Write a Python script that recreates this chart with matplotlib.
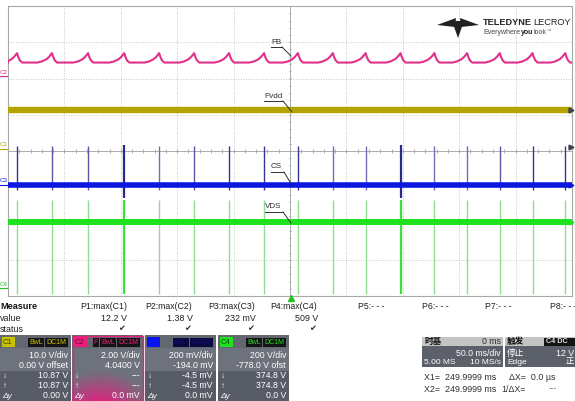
import numpy as np
import matplotlib
matplotlib.use("Agg")
import matplotlib.pyplot as plt
from matplotlib.patches import Rectangle, Polygon

plt.rcParams['font.family'] = ['Liberation Sans', 'Noto Sans CJK SC', 'DejaVu Sans']

W, H = 575, 401

# screen data: time in ms (50 ms/div, 10 div), level in divisions from the bottom (8 div)
pulse_ms = [8, 39, 71, 103, 134, 165, 196, 227, 257, 288, 317, 348, 378, 407, 436, 465, 494]
cs_shade = [0.9, 0.6, 0.6, 1.0, 0.4, 0.6, 0.9, 0.9, 0.9, 0.4, 0.4, 1.0, 0.4, 0.4, 0.6, 0.9, 0.9]
big_pulse = [3, 11]
fb_off = [-13, -9, -5, -2.5, 0, 1, 2.5, 4.5]        # one FB cycle around each pulse
fb_lvl = [6.44, 6.47, 6.53, 6.60, 6.70, 6.60, 6.50, 6.44]
pvdd_lvl = 5.13
cs_lvl = 3.06
cs_spike = (2.92, 4.14)
cs_spike_big = (2.70, 4.16)
vds_lvl = 2.04
vds_spike = (0.05, 2.65)

meas_names = ["P1:max(C1)", "P2:max(C2)", "P3:max(C3)", "P4:max(C4)", "P5:- - -", "P6:- - -", "P7:- - -", "P8:- - -"]
meas_values = ["12.2 V", "1.38 V", "232 mV", "509 V"]

ch_names = ["C1", "C2", "C3", "C4"]
ch_scale = ["10.0 V/div", "2.00 V/div", "200 mV/div", "200 V/div"]
ch_offset = ["0.00 V offset", "4.0400 V", "-194.0 mV", "-778.0 V ofst"]
ch_down = ["10.87 V", "---", "-4.5 mV", "374.8 V"]
ch_up = ["10.87 V", "---", "-4.5 mV", "374.8 V"]
ch_dy = ["0.00 V", "0.0 mV", "0.0 mV", "0.0 V"]

fig = plt.figure(figsize=(W / 100, H / 100), dpi=100)
fig.patch.set_facecolor("white")

# ---------------- waveform grid ----------------
ax = fig.add_axes([8 / W, (H - 296) / H, 564 / W, 290 / H])
ax.set_xlim(0, 500)
ax.set_ylim(0, 8)
ax.set_xticks([])
ax.set_yticks([])
for s in ax.spines.values():
    s.set_color("#a8a8a8")
    s.set_linewidth(0.8)

for i in range(1, 10):
    if i != 5:
        ax.axvline(i * 50, color="#b4b4b4", lw=0.6, ls=(0, (1, 2)), zorder=1)
for j in range(1, 8):
    if j != 4:
        ax.axhline(j, color="#b4b4b4", lw=0.6, ls=(0, (1, 2)), zorder=1)
ax.axvline(250, color="#a0a0a0", lw=0.6, zorder=1)
ax.axhline(4, color="#a0a0a0", lw=0.6, zorder=1)
tx = np.arange(10, 500, 10)
ax.vlines(tx, 4 - 0.06, 4 + 0.06, color="#a0a0a0", lw=0.6, zorder=1)
ty = np.arange(0.2, 8, 0.2)
ax.hlines(ty, 250 - 1.3, 250 + 1.3, color="#a0a0a0", lw=0.6, zorder=1)

# FB
fb_t = [0]
fb_v = [fb_lvl[0]]
for p in pulse_ms:
    for o, v in zip(fb_off, fb_lvl):
        fb_t.append(p + o)
        fb_v.append(v)
fb_t.append(500)
fb_v.append(fb_lvl[-1])
ax.plot(fb_t, fb_v, color="#e0308c", lw=1.5, zorder=4)

# Pvdd
ax.plot([0, 500], [pvdd_lvl, pvdd_lvl], color="#b3a400", lw=4.6, solid_capstyle="butt", zorder=3)

# CS
light = np.array([0.62, 0.62, 0.80])
dark = np.array([0.16, 0.16, 0.55])
for k, p in enumerate(pulse_ms):
    c = light + (dark - light) * cs_shade[k]
    lo, hi = cs_spike_big if k in big_pulse else cs_spike
    ax.vlines(p, lo, hi, color=c, lw=1.6 if k in big_pulse else 1.0, zorder=3)
ax.plot([0, 500], [cs_lvl, cs_lvl], color="#0c18e0", lw=4.0, solid_capstyle="butt", zorder=4)

# VDS
for k, p in enumerate(pulse_ms):
    big = k in big_pulse
    ax.vlines(p, vds_spike[0], vds_spike[1], color="#3ce03c" if big else "#92dc92",
              lw=1.6 if big else 1.0, zorder=3)
ax.plot([0, 500], [vds_lvl, vds_lvl], color="#1ee21e", lw=4.3, solid_capstyle="butt", zorder=4)

# ---------------- overlay in pixel coordinates ----------------
ov = fig.add_axes([0, 0, 1, 1], zorder=5)
ov.axis("off")


def txt(x, y, s, size=6.3, color="white", ha="left", weight="normal", **kw):
    ov.text(x, y, s, fontsize=size, color=color, ha=ha, va="center", fontweight=weight, **kw)


# trace labels with leaders
labels = [("FB", 271, 42, 282, 47, 291, 56),
          ("Pvdd", 264, 96, 283, 101, 292, 112),
          ("CS", 271, 167, 284, 172, 290, 182),
          ("VDS", 265, 207, 283, 212, 291, 223)]
for s, x, y, ux, uy, lx, ly in labels:
    txt(x, y, s, size=5.8, color="#303030")
    ov.plot([x, ux], [uy, uy], color="#303030", lw=0.7)
    ov.plot([ux, lx], [uy, ly], color="#303030", lw=0.7)

# channel markers on the left
for s, y, c in [("C2", 72, "#e0308c"), ("C1", 145, "#b3a400"), ("C3", 181, "#0c18e0"), ("C4", 284, "#1ec81e")]:
    txt(0, y, s, size=4.5, color=c)
    ov.plot([0, 7], [y + 4, y + 4], color=c, lw=0.8)

# markers on the right edge
for y, c in [(110, "#404040"), (147, "#404040"), (185, "#0c18e0"), (222, "#1ee21e")]:
    ov.plot([570.5], [y], marker=">", ms=3.5, color=c, mec=c)
ov.plot([291], [297.5], marker="^", ms=4, color="#22c022", mec="#22c022")

# logo
logo_c = "#222222"
ov.add_patch(Polygon([(437, 25), (456, 18), (455, 27)], closed=True, fc=logo_c, ec="none"))
ov.add_patch(Polygon([(479, 25), (460, 18), (461, 27)], closed=True, fc=logo_c, ec="none"))
ov.add_patch(Polygon([(452, 21), (464, 21), (458, 38)], closed=True, fc=logo_c, ec="none"))
txt(483, 22.5, "TELEDYNE", size=6.6, color=logo_c, weight="bold")
txt(571, 22.5, "LECROY", size=6.6, color=logo_c, ha="right")
txt(483, 33, "Everywhere", size=5.0, color="#444444")
txt(520.5, 33, "you", size=5.0, color="#222222", weight="bold")
txt(533, 33, "look", size=5.0, color="#444444")
txt(546.5, 31, "\u2122", size=3, color="#444444")

# measure table
txt(0, 306.5, "Measure", size=6.6, color="#151515", weight="bold")
txt(0, 318.5, "value", size=6.4, color="#202020")
txt(0, 330, "status", size=6.4, color="#202020")
name_x = [80, 145, 208, 270, 358, 422, 485, 550]
val_x = [127, 193, 256, 318]
for s, x in zip(meas_names, name_x):
    txt(x, 306.5, s, size=6.3, color="#202020")
for s, x in zip(meas_values, val_x):
    txt(x, 318.5, s, size=6.4, color="#202020", ha="right")
    txt(x - 2, 330, "\u2714", size=6, color="#303030", ha="right")

# channel boxes
box_x = [0, 72, 145, 218]
tag_bg = ["#c8c200", "#e8207c", "#0a14f0", "#22e022"]
tag_fg = ["#3a3a00", "#7a0a40", "#0a14f0", "#0a4a0a"]
badge_bg = ["#141414", "#141414", "#0a0a40", "#141414"]
badge_fg = ["#c8c200", "#e8207c", "#101070", "#22e022"]
for k in range(4):
    x0 = box_x[k]
    ov.add_patch(Rectangle((x0, 335), 71, 66, fc="#6e727c", ec="none"))
    ov.add_patch(Rectangle((x0, 335), 71, 13, fc="#63676f", ec="none"))
    ov.add_patch(Rectangle((x0, 371), 71, 30, fc="#585c66", ec="none"))
    if k == 1:
        yy, xx = np.mgrid[350:401:1.0, 72:143:1.0]
        d = np.sqrt(((xx - 100) / 48.0) ** 2 + ((yy - 410) / 36.0) ** 2)
        a = np.clip(1.1 - d, 0, 1)[..., None]
        g1 = np.array([0x6e, 0x72, 0x7c]) / 255
        g2 = np.array([0xf0, 0x18, 0x80]) / 255
        img = g1 * (1 - a) + g2 * a
        ov.imshow(img, extent=(72, 143, 401, 350), aspect="auto", zorder=1.5, interpolation="bilinear")
        ov.add_patch(Rectangle((72.5, 335.5), 70, 65, fc="none", ec="#e8207c", lw=1.0, zorder=3))
    ov.add_patch(Rectangle((x0 + 1.5, 337), 13, 10, fc=tag_bg[k], ec="none", zorder=2))
    txt(x0 + 3, 342, ch_names[k], size=5.5, color=tag_fg[k], zorder=3)
    badges = [("DC1M", 24), ("BwL", 17)]
    if k == 1:
        badges.append(("F", 7))
    bx = x0 + 69
    for s, w in badges:
        bx -= w
        ov.add_patch(Rectangle((bx, 337.5), w - 1.5, 9.5, fc=badge_bg[k], ec="none", zorder=2))
        txt(bx + (w - 1.5) / 2, 342.3, s, size=5.0, color=badge_fg[k], ha="center", zorder=3)
    rx = x0 + 68
    txt(rx, 355, ch_scale[k], ha="right", zorder=3)
    txt(rx, 365.5, ch_offset[k], ha="right", zorder=3)
    txt(x0 + 3, 376, "\u2193", size=5.8, zorder=3)
    txt(rx, 376, ch_down[k], ha="right", zorder=3)
    txt(x0 + 3, 386, "\u2191", size=5.8, zorder=3)
    txt(rx, 386, ch_up[k], ha="right", zorder=3)
    txt(x0 + 2, 396, "\u0394y", size=6, zorder=3, style="italic")
    txt(rx, 396, ch_dy[k], ha="right", zorder=3)

# timebase box
ov.add_patch(Rectangle((422, 337), 81, 9, fc="#c4c4c4", ec="none"))
ov.add_patch(Rectangle((422, 346), 81, 21, fc="#5c606a", ec="none"))
txt(424, 341.5, "时基", size=6.2, color="#151515", weight="bold")
txt(501, 341.5, "0 ms", color="#303030", ha="right")
txt(501, 353, "50.0 ms/div", ha="right")
txt(424, 362, "5.00 MS", size=6)
txt(501, 362, "10 MS/s", ha="right", size=6)

# trigger box
ov.add_patch(Rectangle((505, 337), 70, 9, fc="#c4c4c4", ec="none"))
ov.add_patch(Rectangle((505, 346), 70, 21, fc="#5c606a", ec="none"))
txt(507, 341.5, "触发", size=6.2, color="#151515", weight="bold")
ov.add_patch(Rectangle((544, 337.5), 31, 8, fc="#141414", ec="none"))
txt(546, 341.5, "C4 DC", size=5.2, color="#e0e0e0", weight="bold")
txt(507, 353, "停止")
txt(574, 353, "12 V", ha="right")
txt(507, 362, "Edge", size=6)
txt(574, 362, "正", ha="right", size=6)

# cursors
txt(424, 378, "X1=  249.9999 ms", color="#303030", size=6.4)
txt(509, 378, "\u0394X=  0.0 \u00b5s", color="#303030", size=6.4)
txt(424, 389, "X2=  249.9999 ms", color="#303030", size=6.4)
txt(501, 389, "1/\u0394X=", color="#303030", size=6.4)
txt(549, 389, "---", color="#606060", size=6)

ov.set_xlim(0, W)
ov.set_ylim(H, 0)

fig.savefig("out.png", dpi=100)
